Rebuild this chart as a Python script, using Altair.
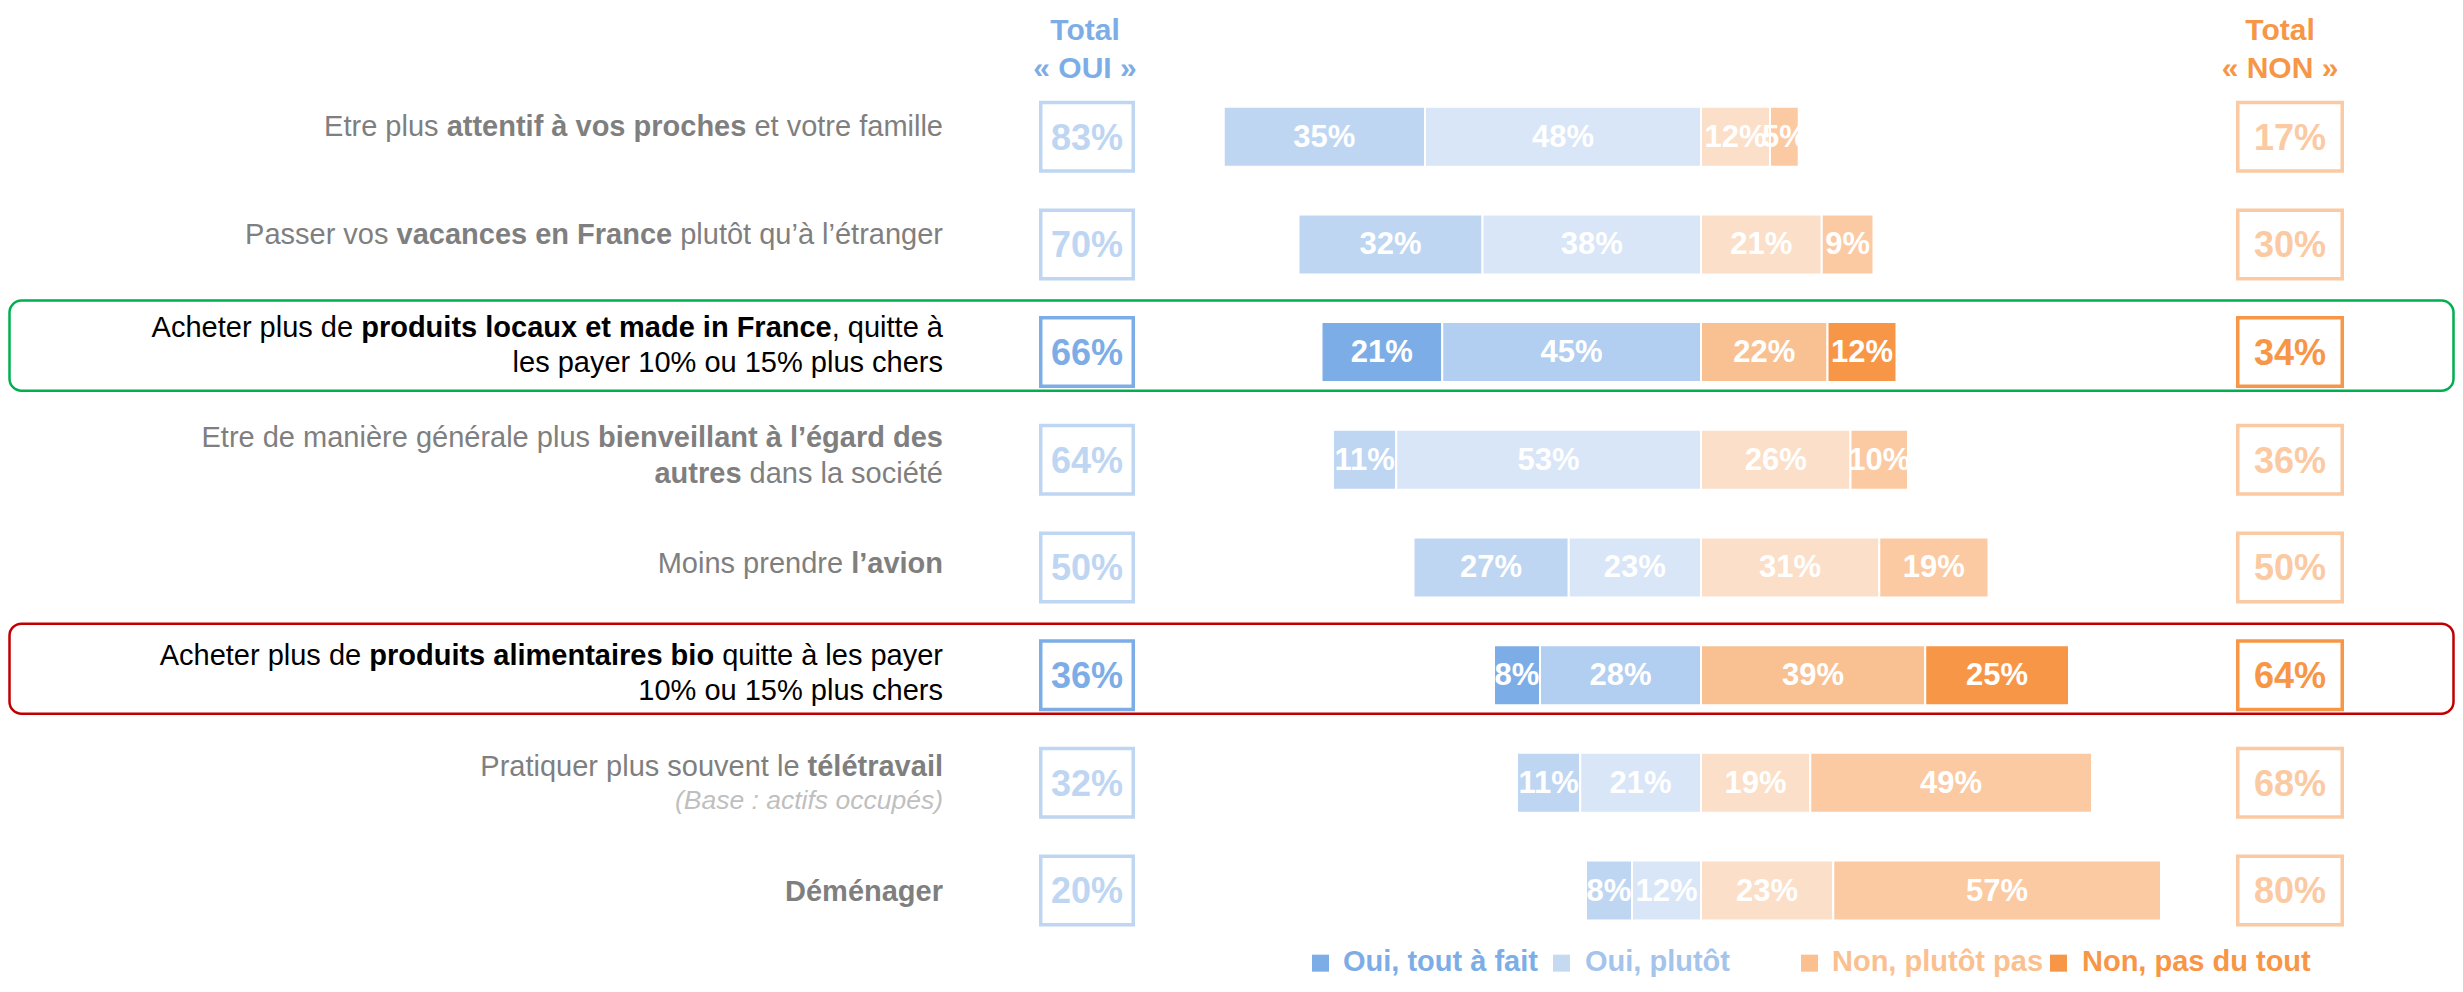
import altair as alt
import pandas as pd

# ---------------- data ----------------
rows = ["attentif", "vacances", "locaux", "bienveillant", "avion", "bio", "teletravail", "demenager"]
tout_a_fait = [35, 32, 21, 11, 27, 8, 11, 8]
plutot = [48, 38, 45, 53, 23, 28, 21, 12]
plutot_pas = [12, 21, 22, 26, 31, 39, 19, 23]
pas_du_tout = [5, 9, 12, 10, 19, 25, 49, 57]
total_oui = [83, 70, 66, 64, 50, 36, 32, 20]
total_non = [17, 30, 34, 36, 50, 64, 68, 80]
frame = ["", "", "vert", "", "", "rouge", "", ""]
series = ["Oui, tout à fait", "Oui, plutôt", "Non, plutôt pas", "Non, pas du tout"]

label_lines = [
    [[("Etre plus ", "n"), ("attentif à vos proches", "b"), (" et votre famille", "n")]],
    [[("Passer vos ", "n"), ("vacances en France", "b"), (" plutôt qu’à l’étranger", "n")]],
    [[("Acheter plus de ", "n"), ("produits locaux et made in France", "b"), (", quitte à", "n")],
     [("les payer 10% ou 15% plus chers", "n")]],
    [[("Etre de manière générale plus ", "n"), ("bienveillant à l’égard des", "b")],
     [("autres", "b"), (" dans la société", "n")]],
    [[("Moins prendre ", "n"), ("l’avion", "b")]],
    [[("Acheter plus de ", "n"), ("produits alimentaires bio", "b"), (" quitte à les payer", "n")],
     [("10% ou 15% plus chers", "n")]],
    [[("Pratiquer plus souvent le ", "n"), ("télétravail", "b")],
     [("(Base : actifs occupés)", "i")]],
    [[("Déménager", "b")]],
]

# ---------------- style / layout ----------------
FULL = ["#7DADE6", "#B2CEF0", "#F9C192", "#F79646"]
FADED = ["#BED6F2", "#D8E6F7", "#FBDFC8", "#FBCAA2"]
LEG_SQ = ["#7DADE6", "#C5D9F1", "#FAC090", "#F79646"]
LEG_TX = ["#7DADE6", "#A4C4EC", "#FAC090", "#F79646"]
FRAME_COL = {"vert": "#00B050", "rouge": "#C00000"}
GRAY = "#7F7F7F"
NOTE = "#BFBFBF"
FONT = "Liberation Sans"

W, H, MARGIN = 2447, 976, 8
ZERO_PX, PX_PER_PCT = 1701, 5.75
ROW0_PX, ROW_STEP = 133, 108.8


def ux(px):
    return (px - ZERO_PX) / PX_PER_PCT


def uy(py):
    return (py - ROW0_PX) / ROW_STEP


XS = alt.Scale(domain=[ux(MARGIN), ux(MARGIN + W)], nice=False, zero=False)
YS = alt.Scale(domain=[uy(MARGIN), uy(MARGIN + H)], reverse=True, nice=False, zero=False)


def X(f):
    return alt.X(f, type="quantitative", scale=XS, axis=None)


def Y(f):
    return alt.Y(f, type="quantitative", scale=YS, axis=None)


# Arial / Liberation Sans advance widths (1/1000 em)
REG = {' ': 278, '’': 222, '(': 333, ')': 333, ',': 278, '.': 278, ':': 278, '%': 889,
       'A': 667, 'B': 667, 'C': 722, 'D': 722, 'E': 667, 'F': 611, 'M': 833, 'P': 667,
       'a': 556, 'b': 556, 'c': 500, 'd': 556, 'e': 556, 'f': 278, 'g': 556, 'h': 556, 'i': 222,
       'j': 222, 'k': 500, 'l': 222, 'm': 833, 'n': 556, 'o': 556, 'p': 556, 'q': 556, 'r': 333,
       's': 500, 't': 278, 'u': 556, 'v': 500, 'w': 722, 'x': 500, 'y': 500, 'z': 500,
       'à': 556, 'é': 556, 'è': 556, 'ô': 556, 'ç': 500}
BOLD = {' ': 278, '’': 278, '(': 333, ')': 333, ',': 278, '.': 278, ':': 333, '%': 889,
        'A': 722, 'B': 722, 'C': 722, 'D': 722, 'E': 667, 'F': 611, 'M': 833, 'P': 667,
        'a': 556, 'b': 611, 'c': 556, 'd': 611, 'e': 556, 'f': 333, 'g': 611, 'h': 611, 'i': 278,
        'j': 278, 'k': 556, 'l': 278, 'm': 889, 'n': 611, 'o': 611, 'p': 611, 'q': 611, 'r': 389,
        's': 556, 't': 333, 'u': 611, 'v': 556, 'w': 778, 'x': 556, 'y': 556, 'z': 500,
        'à': 556, 'é': 556, 'è': 556, 'ô': 611, 'ç': 556}
LABEL_FS, NOTE_FS = 29, 26.5
LABEL_RIGHT = 943
LINE_DY = [[-10], [-9], [-24, 11], [-22, 14], [-4], [-19, 16], [-16, 18], [1]]


def tw(s, w):
    tab = BOLD if w == "b" else REG
    fs = NOTE_FS if w == "i" else LABEL_FS
    return sum(tab.get(c, 556) for c in s) / 1000 * fs


# ---------------- tables ----------------
bar_recs = []
for i in range(len(rows)):
    vals = [tout_a_fait[i], plutot[i], plutot_pas[i], pas_du_tout[i]]
    starts = [-(vals[0] + vals[1]), -vals[1], 0, vals[2]]
    for k in range(4):
        s, e = starts[k], starts[k] + vals[k]
        bar_recs.append({"row": i, "serie": series[k], "start": s, "end": e,
                         "mid": (s + e) / 2, "label": f"{vals[k]}%",
                         "c": FULL[k] if frame[i] else FADED[k]})
bars = pd.DataFrame(bar_recs)

box_recs = []
for i in range(len(rows)):
    box_recs.append({"y": i, "x": ux(1087), "ty": i + 2 / ROW_STEP, "t": f"{total_oui[i]}%",
                     "c": FULL[0] if frame[i] else FADED[0], "side": "oui"})
    box_recs.append({"y": i, "x": ux(2290), "ty": i + 2 / ROW_STEP, "t": f"{total_non[i]}%",
                     "c": FULL[3] if frame[i] else FADED[3], "side": "non"})
boxes = pd.DataFrame(box_recs)

frame_recs = []
for i in range(len(rows)):
    if frame[i]:
        frame_recs.append({"y": i - 52 / ROW_STEP, "y2": i + 39 / ROW_STEP, "c": FRAME_COL[frame[i]]})
frames = pd.DataFrame(frame_recs)

lab_recs = []
for i, lines in enumerate(label_lines):
    for li, pieces in enumerate(lines):
        cur = LABEL_RIGHT
        for t, w in reversed(pieces):
            core = t.rstrip()
            right = cur - tw(t[len(core):], w)
            cur -= tw(t, w)
            col = NOTE if w == "i" else ("#000000" if frame[i] else GRAY)
            lab_recs.append({"x": ux(right), "y": i + LINE_DY[i][li] / ROW_STEP,
                             "t": core.lstrip(), "w": w, "c": col})
labels = pd.DataFrame(lab_recs)

headers = pd.DataFrame([
    {"x": ux(1085), "y": uy(26), "t": "Total", "c": FULL[0]},
    {"x": ux(1085), "y": uy(65), "t": "« OUI »", "c": FULL[0]},
    {"x": ux(2280), "y": uy(26), "t": "Total", "c": FULL[3]},
    {"x": ux(2280), "y": uy(65), "t": "« NON »", "c": FULL[3]},
])

LEG_SQ_X = [1320.5, 1561.5, 1809.5, 2058.5]
LEG_TX_X = [1343, 1585, 1832, 2082]
legend_sq = pd.DataFrame({"x": [ux(v) for v in LEG_SQ_X], "y": [uy(968)] * 4, "c": LEG_SQ})
legend_tx = pd.DataFrame({"x": [ux(v) for v in LEG_TX_X], "y": [uy(967)] * 4,
                          "t": series, "c": LEG_TX})

# ---------------- layers ----------------
frame_layer = alt.Chart(frames).mark_rect(fillOpacity=0, strokeWidth=2.5, cornerRadius=12).encode(
    x=alt.value(1.5), x2=alt.value(W - 1.5), y=Y("y"), y2="y2", stroke=alt.Stroke("c:N", scale=None))

bar_layer = alt.Chart(bars).mark_bar(size=60, stroke="white", strokeWidth=2).encode(
    x=X("start"), x2="end", y=Y("row"), color=alt.Color("c:N", scale=None))

bar_text = alt.Chart(bars).mark_text(font=FONT, fontSize=31, fontWeight="bold", color="white",
                                     baseline="middle", align="center", dy=1).encode(
    x=X("mid"), y=Y("row"), text="label:N")

PATH_L = "M-1,-0.7405L1,-0.7405L1,0.7405L-1,0.7405Z"
PATH_R = "M-1,-0.6555L1,-0.6555L1,0.6555L-1,0.6555Z"
box_l = alt.Chart(boxes[boxes.side == "oui"]).mark_point(shape=PATH_L, size=92.5 ** 2, strokeWidth=3.5,
                                                          filled=False, opacity=1).encode(
    x=X("x"), y=Y("y"), color=alt.Color("c:N", scale=None))
box_r = alt.Chart(boxes[boxes.side == "non"]).mark_point(shape=PATH_R, size=104.5 ** 2, strokeWidth=3.5,
                                                          filled=False, opacity=1).encode(
    x=X("x"), y=Y("y"), color=alt.Color("c:N", scale=None))
box_text = alt.Chart(boxes).mark_text(font=FONT, fontSize=36, fontWeight="bold", baseline="middle",
                                      align="center").encode(
    x=X("x"), y=Y("ty"), text="t:N", color=alt.Color("c:N", scale=None))

lab_n = alt.Chart(labels[labels.w == "n"]).mark_text(font=FONT, fontSize=LABEL_FS, align="right",
                                                      baseline="middle").encode(
    x=X("x"), y=Y("y"), text="t:N", color=alt.Color("c:N", scale=None))
lab_b = alt.Chart(labels[labels.w == "b"]).mark_text(font=FONT, fontSize=LABEL_FS, fontWeight="bold",
                                                      align="right", baseline="middle").encode(
    x=X("x"), y=Y("y"), text="t:N", color=alt.Color("c:N", scale=None))
lab_i = alt.Chart(labels[labels.w == "i"]).mark_text(font=FONT, fontSize=NOTE_FS, fontStyle="italic",
                                                      align="right", baseline="middle").encode(
    x=X("x"), y=Y("y"), text="t:N", color=alt.Color("c:N", scale=None))

head_layer = alt.Chart(headers).mark_text(font=FONT, fontSize=30, fontWeight="bold", align="center",
                                          baseline="middle").encode(
    x=X("x"), y=Y("y"), text="t:N", color=alt.Color("c:N", scale=None))

leg_sq_layer = alt.Chart(legend_sq).mark_square(size=17 * 17, filled=True, opacity=1).encode(
    x=X("x"), y=Y("y"), color=alt.Color("c:N", scale=None))
leg_tx_layer = alt.Chart(legend_tx).mark_text(font=FONT, fontSize=29, fontWeight="bold", align="left",
                                              baseline="middle").encode(
    x=X("x"), y=Y("y"), text="t:N", color=alt.Color("c:N", scale=None))

chart = alt.layer(
    frame_layer, bar_layer, bar_text, box_l, box_r, box_text,
    lab_n, lab_b, lab_i, head_layer, leg_sq_layer, leg_tx_layer
).properties(
    width=W, height=H, padding=0, background="white",
    autosize=alt.AutoSizeParams(type="none")
).configure_view(stroke=None)

chart.save("out.html", embed_options={"renderer": "svg", "actions": False})
